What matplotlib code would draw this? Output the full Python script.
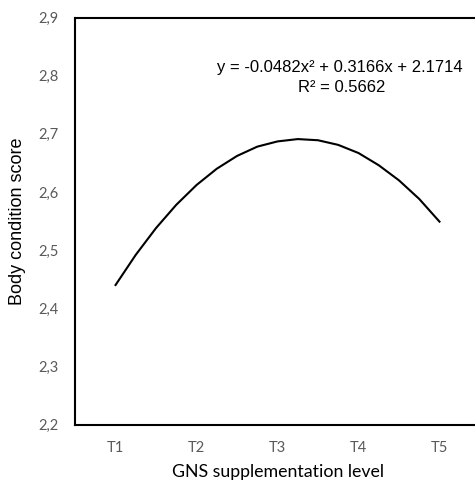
import matplotlib
matplotlib.use("Agg")
import matplotlib.pyplot as plt

# curve values (x in treatment units, T1 = 1)
x_vals = [1.0, 1.25, 1.5, 1.75, 2.0, 2.25, 2.5, 2.75, 3.0,
          3.25, 3.5, 3.75, 4.0, 4.25, 4.5, 4.75, 5.0]
bcs_vals = [2.440, 2.492, 2.538, 2.578, 2.612, 2.640, 2.662, 2.678, 2.687,
            2.691, 2.689, 2.681, 2.667, 2.646, 2.620, 2.588, 2.549]

tick_pos = [1, 2, 3, 4, 5]
tick_labels = ["T1", "T2", "T3", "T4", "T5"]
y_ticks = [2.2, 2.3, 2.4, 2.5, 2.6, 2.7, 2.8, 2.9]
y_tick_labels = ["2,2", "2,3", "2,4", "2,5", "2,6", "2,7", "2,8", "2,9"]

eq_line = "y = -0.0482x² + 0.3166x + 2.1714"
r2_line = "R² = 0.5662"

fig = plt.figure(figsize=(4.75, 4.88), dpi=100)
ax = fig.add_axes([0.158, 0.130, 1.0105 - 0.158, 0.964 - 0.130])

ax.plot(x_vals, bcs_vals, color="black", linewidth=1.5)

ax.set_xlim(0.5, 5.5)
ax.set_ylim(2.2, 2.9)
ax.set_xticks(tick_pos)
ax.set_xticklabels(tick_labels, fontfamily="Lato", fontsize=10.5, color="#595959")
ax.set_yticks(y_ticks)
ax.set_yticklabels(y_tick_labels, fontfamily="Lato", fontsize=10.5, color="#595959")
ax.tick_params(length=0, pad=12)

for side in ["left", "top", "bottom"]:
    ax.spines[side].set_linewidth(1.5)
    ax.spines[side].set_color("black")
ax.spines["right"].set_visible(False)

ax.set_ylabel("Body condition score", fontfamily="Liberation Sans", fontsize=13, labelpad=9)
ax.set_xlabel("GNS supplementation level", fontfamily="Lato", fontsize=12.8, labelpad=6)

# trendline equation
fig.text(340 / 475, 1 - 67 / 488, eq_line, ha="center", va="center",
         fontfamily="Liberation Sans", fontsize=12)
fig.text(342 / 475, 1 - 88 / 488, r2_line, ha="center", va="center",
         fontfamily="Liberation Sans", fontsize=12)

plt.savefig("out.png", dpi=100)
plt.close()
